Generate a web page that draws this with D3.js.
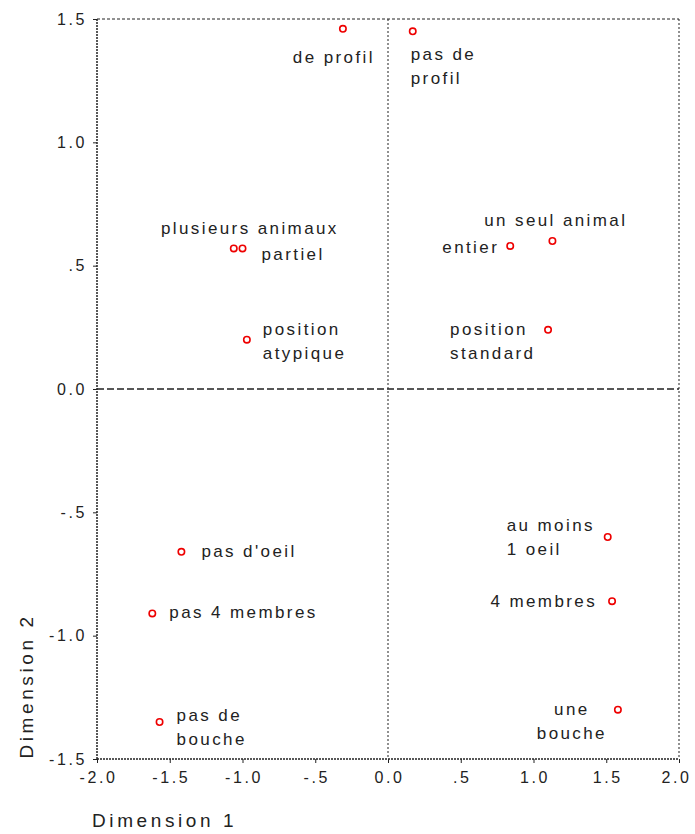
<!DOCTYPE html>
<html><head><meta charset="utf-8">
<script src="https://cdn.jsdelivr.net/npm/d3@7"></script>
<style>body{margin:0;background:#fff}svg{display:block}</style>
</head><body>
<svg id="c" width="695" height="834"></svg>
<script>
const labels = [["de profil"],["pas de","profil"],["plusieurs animaux"],["partiel"],["position","atypique"],["un seul animal"],["entier"],["position","standard"],["au moins","1 oeil"],["4 membres"],["une","bouche"],["pas d'oeil"],["pas 4 membres"],["pas de","bouche"]];
const dim1 = [-0.31, 0.17, -1.06, -1.00, -0.97, 1.13, 0.84, 1.10, 1.51, 1.54, 1.58, -1.42, -1.62, -1.57];
const dim2 = [1.46, 1.45, 0.57, 0.57, 0.20, 0.60, 0.58, 0.24, -0.60, -0.86, -1.30, -0.66, -0.91, -1.35];
const xTicks = [-2.0,-1.5,-1.0,-0.5,0.0,0.5,1.0,1.5,2.0];
const yTicks = [1.5,1.0,0.5,0.0,-0.5,-1.0,-1.5];
const xTickLabels = ["-2.0","-1.5","-1.0","-.5","0.0",".5","1.0","1.5","2.0"];
const yTickLabels = ["1.5","1.0",".5","0.0","-.5","-1.0","-1.5"];
// label placement: [anchor, dx, dy] relative to point
const place = [["end",32,29],["start",-2,24],["end",105,-19],["start",19,7],["start",16,-10],["end",75,-20],["end",-11,2],["start",-98,0],["start",-101,-11],["end",-15,1],["middle",-46,0],["start",20,0],["start",17,0],["start",17,-6]];

const svg = d3.select("#c");
const x = d3.scaleLinear().domain([-2,2]).range([97,679]);
const y = d3.scaleLinear().domain([-1.5,1.5]).range([759,19]);
const font = "Arial, 'Liberation Sans', sans-serif";

// frame
const g = svg.append("g").attr("stroke","#222").attr("fill","none");
g.append("line").attr("x1",x(-2)).attr("x2",x(2)).attr("y1",y(1.5)).attr("y2",y(1.5)).attr("stroke-dasharray","3,2");
g.append("line").attr("x1",x(2)).attr("x2",x(2)).attr("y1",y(1.5)).attr("y2",y(-1.5)).attr("stroke-dasharray","2,2");
g.append("line").attr("x1",x(0)).attr("x2",x(0)).attr("y1",y(1.5)).attr("y2",y(-1.5)).attr("stroke-dasharray","2,2");
g.append("line").attr("x1",x(-2)).attr("x2",x(2)).attr("y1",y(0)).attr("y2",y(0)).attr("stroke-dasharray","7,3").attr("stroke-width",1.3);

// axes
const xAxis = d3.axisBottom(x).tickValues(xTicks).tickFormat((d,i)=>xTickLabels[i]).tickSize(4).tickPadding(9);
const yAxis = d3.axisLeft(y).tickValues(yTicks).tickFormat((d,i)=>yTickLabels[i]).tickSize(4).tickPadding(6);
const gx = svg.append("g").attr("transform",`translate(0,${y(-1.5)})`).call(xAxis);
const gy = svg.append("g").attr("transform",`translate(${x(-2)},0)`).call(yAxis);
[gx,gy].forEach(a=>{
  a.select(".domain").attr("stroke","#222").attr("stroke-dasharray","2,1").attr("stroke-width",1.5);
  a.selectAll(".tick line").attr("stroke","#222");
  a.selectAll("text").attr("font-family",font).attr("font-size",16).attr("fill","#222").attr("letter-spacing",2.6);
});
gx.selectAll("text").attr("dx",(d,i)=>i===xTicks.length-1?-3:1);
gy.select(".domain").attr("d",`M0,${y(1.5)}V${y(-1.5)}`);
gx.select(".domain").attr("d",`M${x(-2)},0H${x(2)}`);

// axis titles
svg.append("text").attr("x",92).attr("y",827).attr("font-family",font).attr("font-size",19).attr("letter-spacing",3.6).attr("fill","#222").text("Dimension 1");
svg.append("text").attr("transform",`translate(33,686) rotate(-90)`).attr("text-anchor","middle").attr("font-family",font).attr("font-size",19).attr("letter-spacing",3.6).attr("fill","#222").text("Dimension 2");

// points
svg.append("g").selectAll("circle").data(dim1).join("circle")
  .attr("cx",(d)=>x(d)).attr("cy",(d,i)=>y(dim2[i])).attr("r",3.2)
  .attr("fill","none").attr("stroke","#e00").attr("stroke-width",1.6);

// labels
const lg = svg.append("g").attr("font-family",font).attr("font-size",17).attr("fill","#222").attr("letter-spacing",2.4);
labels.forEach((lines,i)=>{
  const p = place[i];
  const t = lg.append("text").attr("text-anchor",p[0])
    .attr("x",x(dim1[i])+p[1]).attr("y",y(dim2[i])+p[2]+5);
  lines.forEach((l,j)=>t.append("tspan").attr("x",x(dim1[i])+p[1]).attr("dy",j?24:0).text(l));
});
</script>
</body></html>
